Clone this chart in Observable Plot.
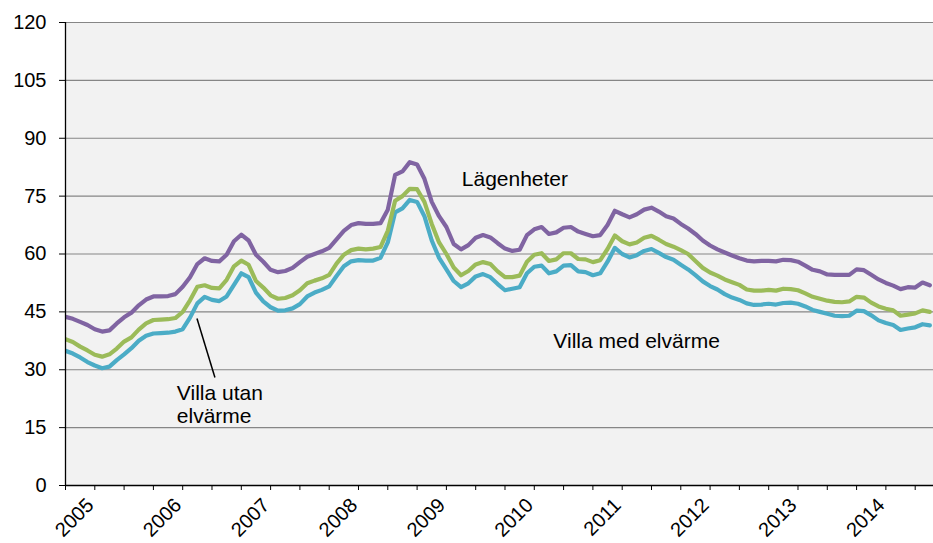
<!DOCTYPE html>
<html><head><meta charset="utf-8">
<script src="https://cdn.jsdelivr.net/npm/d3@7"></script>
<script src="https://cdn.jsdelivr.net/npm/@observablehq/plot@0.6"></script>
<style>body{margin:0;background:#fff} #chart{width:933px;height:543px}</style>
</head><body><div id="chart"></div>
<script>
// Monthly index values, month 0 = Sep 2004 (tick for 2005 is at month 4)
const lagenheter = [
43.7,43.2,42.4,41.6,40.5,39.9,40.2,42.0,43.6,44.8,
46.7,48.2,49.0,49.0,49.1,49.6,51.5,54.0,57.4,58.9,
58.2,58.1,59.8,63.3,65.0,63.5,59.8,58.0,55.9,55.3,
55.6,56.4,57.9,59.3,60.0,60.7,61.6,63.8,66.0,67.5,
68.0,67.8,67.8,68.0,71.5,80.5,81.4,83.8,83.2,79.5,
73.5,69.8,67.0,62.6,61.2,62.3,64.2,64.9,64.3,62.8,
61.4,60.8,61.1,64.9,66.4,67.0,65.2,65.6,66.8,67.0,
65.8,65.2,64.6,64.9,67.5,71.2,70.3,69.5,70.3,71.5,
72.0,71.0,69.8,69.2,67.8,66.6,65.2,63.5,62.2,61.2,
60.4,59.6,58.9,58.3,58.1,58.2,58.2,58.1,58.5,58.4,
58.0,57.0,55.9,55.5,54.7,54.6,54.6,54.6,56.0,55.8,
54.6,53.4,52.5,51.8,50.9,51.4,51.3,52.6,51.9];
const villaMedElvarme = [
37.9,37.2,36.0,35.0,33.9,33.4,34.0,35.5,37.3,38.4,
40.4,42.0,42.9,43.0,43.1,43.4,45.0,48.0,51.5,51.9,
51.2,51.1,53.3,56.8,58.3,57.2,53.0,51.3,49.3,48.4,
48.6,49.3,50.6,52.4,53.1,53.7,54.6,57.5,59.8,61.0,
61.4,61.2,61.4,61.8,66.0,73.8,75.0,76.9,76.8,73.5,
67.8,63.0,60.0,56.5,54.5,55.6,57.3,57.9,57.4,55.5,
54.0,54.0,54.4,58.0,59.8,60.2,58.2,58.6,60.2,60.2,
58.7,58.6,57.9,58.4,61.3,64.8,63.3,62.5,63.0,64.2,
64.7,63.7,62.6,61.9,61.0,60.0,58.2,56.4,55.2,54.4,
53.4,52.7,52.0,50.8,50.5,50.5,50.7,50.5,51.0,50.9,
50.6,49.8,48.9,48.4,47.9,47.6,47.5,47.7,48.9,48.7,
47.4,46.4,45.8,45.4,44.0,44.3,44.6,45.4,45.0];
const villaUtanElvarme = [
34.9,34.2,33.2,32.0,31.1,30.4,30.8,32.5,34.0,35.6,
37.5,38.8,39.4,39.5,39.6,39.9,40.5,43.5,47.2,48.9,
48.1,47.8,49.0,52.0,55.0,54.0,50.0,47.7,46.2,45.3,
45.4,45.9,47.0,49.0,50.0,50.7,51.6,54.3,56.8,58.1,
58.4,58.3,58.3,59.0,63.0,70.8,71.8,74.0,73.5,69.8,
63.5,59.0,56.0,53.0,51.4,52.4,54.2,54.8,54.0,52.2,
50.6,51.0,51.4,55.0,56.7,57.0,55.0,55.5,57.0,57.1,
55.5,55.3,54.5,55.0,58.0,61.6,60.0,59.1,59.7,60.8,
61.3,60.3,59.2,58.5,57.2,56.0,54.5,52.9,51.7,50.8,
49.6,48.7,48.1,47.2,46.8,46.9,47.1,46.9,47.3,47.4,
47.1,46.4,45.5,45.0,44.5,44.0,43.9,44.0,45.3,45.2,
44.1,42.8,42.1,41.6,40.3,40.7,41.0,41.8,41.5];

const seriesNames = ["Villa utan elvärme", "Villa med elvärme", "Lägenheter"];
const seriesColors = ["#4bacc6", "#9bbb59", "#8064a2"];
const yTicks = [0, 15, 30, 45, 60, 75, 90, 105, 120];
const yearLabels = ["2005","2006","2007","2008","2009","2010","2011","2012","2013","2014"];
const yearStartMonth = 4;

const labelTexts = ["Lägenheter", "Villa med elvärme", "Villa utan\nelvärme"];
const labelMonths = [54.1, 66.6, 15.2];
const labelValues = [77.5, 35.7, 16.1];
const leaderFrom = [17.95, 43.3];
const leaderTo = [20.4, 28.0];

const seriesValues = [villaUtanElvarme, villaMedElvarme, lagenheter];
const rows = [];
seriesValues.forEach((vals, s) => vals.forEach((v, i) => rows.push({m: i, value: v, series: seriesNames[s]})));
const labels = labelTexts.map((t, i) => ({text: t, m: labelMonths[i], v: labelValues[i]}));
const years = yearLabels.map((y, i) => ({text: y, m: yearStartMonth + 12 * i}));
const leader = [{m1: leaderFrom[0], v1: leaderFrom[1], m2: leaderTo[0], v2: leaderTo[1]}];

const chart = Plot.plot({
  width: 933, height: 543,
  marginTop: 22, marginBottom: 58, marginLeft: 65, marginRight: 0,
  style: {fontFamily: "Arial, 'Liberation Sans', sans-serif", fontSize: "20px", color: "#000", background: "#fff"},
  x: {domain: [0, 118.5], axis: null, label: null},
  y: {domain: [0, 120], axis: null, label: null},
  color: {domain: seriesNames, range: seriesColors},
  marks: [
    Plot.frame({fill: "#f2f2f2", stroke: null}),
    Plot.ruleY(yTicks.filter(d => d > 0), {stroke: "#868686", strokeWidth: 1.2}),
    Plot.line(rows, {x: "m", y: "value", z: "series", stroke: "series", strokeWidth: 4.2, strokeLinejoin: "round", clip: true}),
    Plot.ruleY([0], {stroke: "#000", strokeWidth: 1.3}),
    Plot.ruleX([0], {stroke: "#000", strokeWidth: 1.3}),
    Plot.axisY({ticks: yTicks, tickSize: 6, tickPadding: 13, fontSize: 20, stroke: "#000", tickFormat: d => String(d), label: null}),
    Plot.axisX({ticks: d3.range(0, 117, 4), tickSize: 5, tickFormat: () => "", stroke: "#000", label: null}),
    Plot.text(years, {x: "m", y: () => 0, text: "text", dy: 21, rotate: -45, textAnchor: "end", lineAnchor: "bottom", fontSize: 20, fill: "#000"}),
    Plot.text(labels, {x: "m", y: "v", text: "text", textAnchor: "start", lineAnchor: "bottom", fontSize: 21, lineHeight: 1.12, fill: "#000"}),
    Plot.link(leader, {x1: "m1", y1: "v1", x2: "m2", y2: "v2", stroke: "#000", strokeWidth: 1.5})
  ]
});
document.getElementById("chart").appendChild(chart);
</script>
</body></html>
